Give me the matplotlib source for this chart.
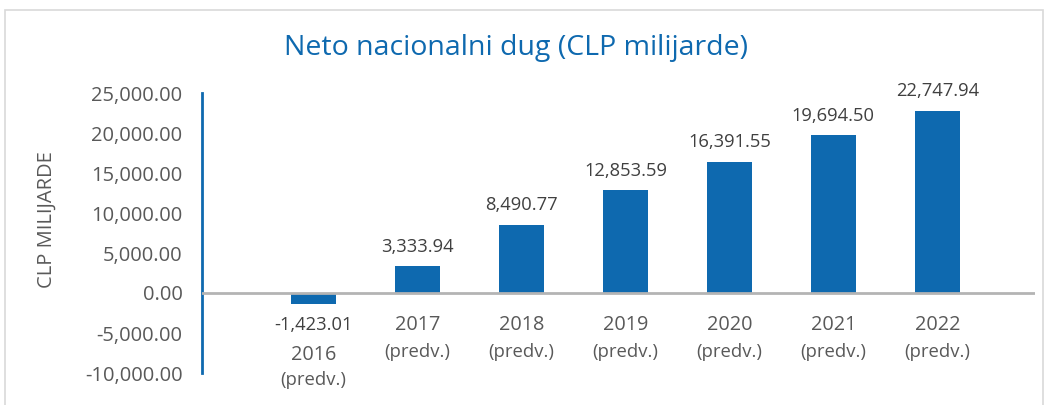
import matplotlib
import matplotlib.pyplot as plt
from matplotlib.patches import Rectangle
from matplotlib.ticker import FuncFormatter

matplotlib.use("Agg")

years = ["2016", "2017", "2018", "2019", "2020", "2021", "2022"]
debt = [-1423.01, 3333.94, 8490.77, 12853.59, 16391.55, 19694.50, 22747.94]
note = "(predv.)"

blue = "#0E69AF"
grey_text = "#595959"

plt.rcParams["font.family"] = ["Open Sans", "DejaVu Sans"]

fig = plt.figure(figsize=(10.48, 4.05), dpi=100)
fig.patches.append(Rectangle((5 / 1048, -0.1), 1038 / 1048, 1 - 10 / 405 + 0.1,
                             transform=fig.transFigure, fill=False,
                             edgecolor="#D9D9D9", linewidth=1.2))

ax = fig.add_axes([202 / 1048, 1 - 373 / 405, 833 / 1048, 280 / 405])
x = list(range(len(years)))
ax.bar(x, debt, width=0.43, color=blue, zorder=2)
ax.axhline(0, color="#B4B4B4", linewidth=2, zorder=3)

ax.set_xlim(-1.072, 6.94)
ax.set_ylim(-10000, 25000)
ax.set_yticks(range(-10000, 25001, 5000))
ax.yaxis.set_major_formatter(FuncFormatter(lambda v, p: f"{v:,.2f}"))
ax.tick_params(axis="y", length=0, pad=14, labelsize=14.5, labelcolor=grey_text)
ax.set_xticks([])
for side in ["top", "right", "bottom"]:
    ax.spines[side].set_visible(False)
ax.spines["left"].set_color(blue)
ax.spines["left"].set_linewidth(2)

fig.text(47 / 1048, 1 - 220 / 405, "CLP MILIJARDE", rotation=90,
         ha="center", va="center", fontsize=14.5, color=grey_text)
fig.text(516 / 1048, 1 - 48 / 405, "Neto nacionalni dug (CLP milijarde)",
         ha="center", va="center", fontsize=20.5, color=blue)

# data labels and two-line category labels
for i, v in enumerate(debt):
    if v >= 0:
        ax.text(i, v + 2450, f"{v:,.2f}", ha="center", va="center",
                fontsize=13.2, color="#404040")
        yy, yn = -4000, -7400
    else:
        ax.text(i, -4000, f"{v:,.2f}", ha="center", va="center",
                fontsize=13.2, color="#404040")
        yy, yn = -7750, -10900
    ax.text(i, yy, years[i], ha="center", va="center", fontsize=14.3,
            color=grey_text, clip_on=False)
    ax.text(i, yn, note, ha="center", va="center", fontsize=13.3,
            color=grey_text, clip_on=False)

fig.savefig("out.png", dpi=100)
